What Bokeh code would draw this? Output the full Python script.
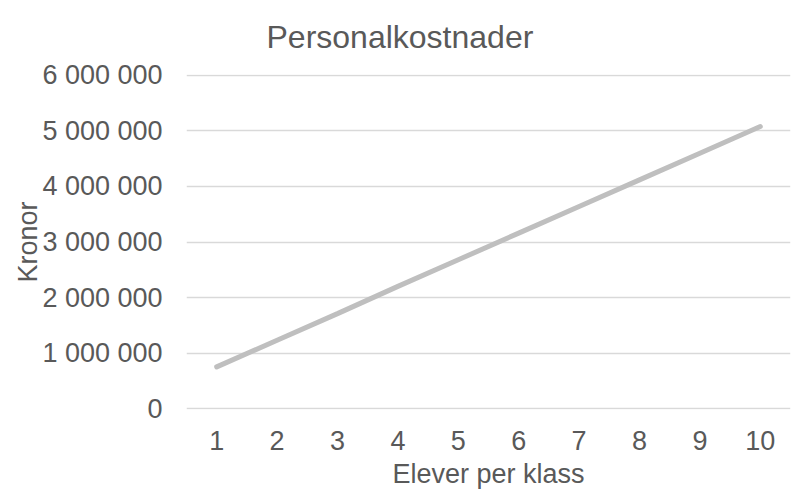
from bokeh.plotting import figure
from bokeh.models import Range1d, FixedTicker, CustomJSTickFormatter
from bokeh.embed import file_html
from bokeh.resources import INLINE

# Data
elever = [1, 2, 3, 4, 5, 6, 7, 8, 9, 10]
kostnad = [750000, 1230000, 1710000, 2200000, 2680000, 3160000, 3640000, 4120000, 4600000, 5080000]
y_ticks = [0, 1000000, 2000000, 3000000, 4000000, 5000000, 6000000]
title_text = "Personalkostnader"
x_title = "Elever per klass"
y_title = "Kronor"

FONT = "Liberation Sans"
TXT = "#595959"

p = figure(width=792, height=491, output_backend="svg", toolbar_location=None,
           x_range=Range1d(0.5, 10.5), y_range=Range1d(-18000, 6018000),
           min_border_left=186, min_border_right=2, min_border_top=74, min_border_bottom=79)

p.title.text = title_text
p.title.text_font = FONT
p.title.text_font_size = "32px"
p.title.text_font_style = "normal"
p.title.text_color = TXT
p.title.align = "left"
p.title.offset = 80
p.title.vertical_align = "top"
p.title.standoff = 36

p.line(elever, kostnad, line_color="#BFBFBF", line_width=5, line_cap="round")

p.outline_line_color = None
p.xgrid.grid_line_color = None
p.ygrid.grid_line_color = "#D9D9D9"
p.ygrid.grid_line_width = 1.3

p.xaxis.ticker = FixedTicker(ticks=elever)
p.yaxis.ticker = FixedTicker(ticks=y_ticks)
p.yaxis.formatter = CustomJSTickFormatter(code="""
return Math.round(tick).toString().replace(/\\B(?=(\\d{3})+(?!\\d))/g, " ");
""")

for ax in (p.xaxis[0], p.yaxis[0]):
    ax.axis_line_color = None
    ax.major_tick_line_color = None
    ax.minor_tick_line_color = None
    ax.major_label_text_font = FONT
    ax.major_label_text_font_size = "27px"
    ax.major_label_text_color = TXT
    ax.axis_label_text_font = FONT
    ax.axis_label_text_font_size = "27px"
    ax.axis_label_text_font_style = "normal"
    ax.axis_label_text_color = TXT

p.xaxis.axis_label = x_title
p.yaxis.axis_label = y_title
p.xaxis.major_label_standoff = 15
p.xaxis.axis_label_standoff = 6
p.yaxis.major_label_standoff = 18
p.yaxis.axis_label_standoff = -4

open("out.html", "w").write(file_html(p, INLINE))
